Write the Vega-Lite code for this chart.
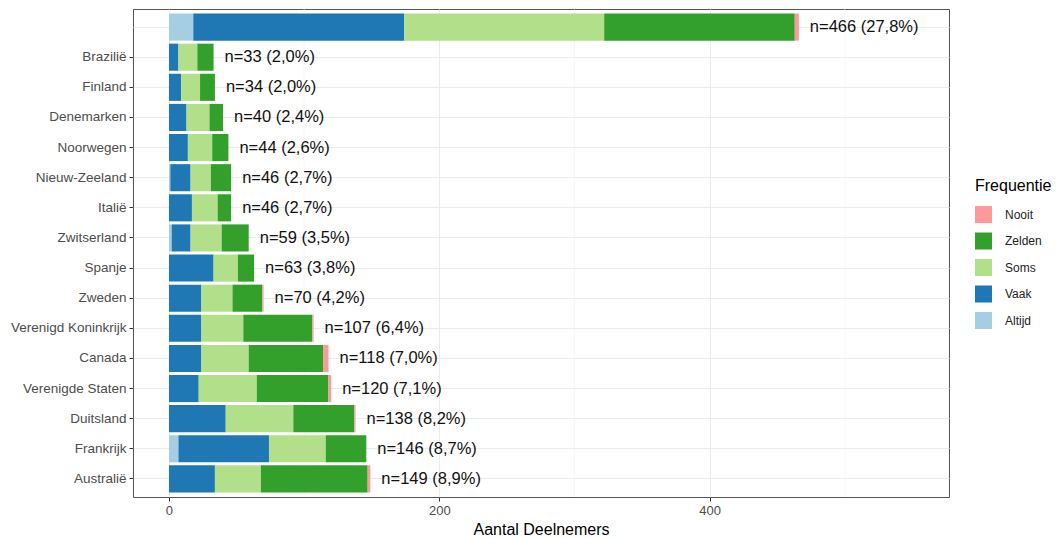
{
  "$schema": "https://vega.github.io/schema/vega-lite/v6.json",
  "width": 816,
  "height": 488,
  "autosize": "none",
  "padding": {"left": 133, "top": 9, "right": 108, "bottom": 41},
  "background": "white",
  "config": {
    "font": "Liberation Sans",
    "view": {"stroke": "#555555", "strokeWidth": 1},
    "axis": {"labelFont": "Liberation Sans", "titleFont": "Liberation Sans"}
  },
  "datasets": {
    "freqs": [
      {"country": "Totaal", "freq": "Altijd", "count": 18},
      {"country": "Totaal", "freq": "Vaak", "count": 156},
      {"country": "Totaal", "freq": "Soms", "count": 148},
      {"country": "Totaal", "freq": "Zelden", "count": 141},
      {"country": "Totaal", "freq": "Nooit", "count": 3},
      {"country": "Brazilië", "freq": "Vaak", "count": 7},
      {"country": "Brazilië", "freq": "Soms", "count": 14},
      {"country": "Brazilië", "freq": "Zelden", "count": 12},
      {"country": "Finland", "freq": "Vaak", "count": 9},
      {"country": "Finland", "freq": "Soms", "count": 14},
      {"country": "Finland", "freq": "Zelden", "count": 11},
      {"country": "Denemarken", "freq": "Vaak", "count": 13},
      {"country": "Denemarken", "freq": "Soms", "count": 17},
      {"country": "Denemarken", "freq": "Zelden", "count": 10},
      {"country": "Noorwegen", "freq": "Vaak", "count": 14},
      {"country": "Noorwegen", "freq": "Soms", "count": 18},
      {"country": "Noorwegen", "freq": "Zelden", "count": 12},
      {"country": "Nieuw-Zeeland", "freq": "Altijd", "count": 1},
      {"country": "Nieuw-Zeeland", "freq": "Vaak", "count": 15},
      {"country": "Nieuw-Zeeland", "freq": "Soms", "count": 15},
      {"country": "Nieuw-Zeeland", "freq": "Zelden", "count": 15},
      {"country": "Italië", "freq": "Vaak", "count": 17},
      {"country": "Italië", "freq": "Soms", "count": 19},
      {"country": "Italië", "freq": "Zelden", "count": 10},
      {"country": "Zwitserland", "freq": "Altijd", "count": 2},
      {"country": "Zwitserland", "freq": "Vaak", "count": 14},
      {"country": "Zwitserland", "freq": "Soms", "count": 23},
      {"country": "Zwitserland", "freq": "Zelden", "count": 20},
      {"country": "Spanje", "freq": "Vaak", "count": 33},
      {"country": "Spanje", "freq": "Soms", "count": 18},
      {"country": "Spanje", "freq": "Zelden", "count": 12},
      {"country": "Zweden", "freq": "Vaak", "count": 24},
      {"country": "Zweden", "freq": "Soms", "count": 23},
      {"country": "Zweden", "freq": "Zelden", "count": 22},
      {"country": "Zweden", "freq": "Nooit", "count": 1},
      {"country": "Verenigd Koninkrijk", "freq": "Vaak", "count": 24},
      {"country": "Verenigd Koninkrijk", "freq": "Soms", "count": 31},
      {"country": "Verenigd Koninkrijk", "freq": "Zelden", "count": 51},
      {"country": "Verenigd Koninkrijk", "freq": "Nooit", "count": 1},
      {"country": "Canada", "freq": "Vaak", "count": 24},
      {"country": "Canada", "freq": "Soms", "count": 35},
      {"country": "Canada", "freq": "Zelden", "count": 55},
      {"country": "Canada", "freq": "Nooit", "count": 4},
      {"country": "Verenigde Staten", "freq": "Vaak", "count": 22},
      {"country": "Verenigde Staten", "freq": "Soms", "count": 43},
      {"country": "Verenigde Staten", "freq": "Zelden", "count": 53},
      {"country": "Verenigde Staten", "freq": "Nooit", "count": 2},
      {"country": "Duitsland", "freq": "Vaak", "count": 42},
      {"country": "Duitsland", "freq": "Soms", "count": 50},
      {"country": "Duitsland", "freq": "Zelden", "count": 45},
      {"country": "Duitsland", "freq": "Nooit", "count": 1},
      {"country": "Frankrijk", "freq": "Altijd", "count": 7},
      {"country": "Frankrijk", "freq": "Vaak", "count": 67},
      {"country": "Frankrijk", "freq": "Soms", "count": 42},
      {"country": "Frankrijk", "freq": "Zelden", "count": 30},
      {"country": "Australië", "freq": "Vaak", "count": 34},
      {"country": "Australië", "freq": "Soms", "count": 34},
      {"country": "Australië", "freq": "Zelden", "count": 79},
      {"country": "Australië", "freq": "Nooit", "count": 2}
    ],
    "totals": [
      {"country": "Totaal", "n": 466, "label": "n=466 (27,8%)"},
      {"country": "Brazilië", "n": 33, "label": "n=33 (2,0%)"},
      {"country": "Finland", "n": 34, "label": "n=34 (2,0%)"},
      {"country": "Denemarken", "n": 40, "label": "n=40 (2,4%)"},
      {"country": "Noorwegen", "n": 44, "label": "n=44 (2,6%)"},
      {"country": "Nieuw-Zeeland", "n": 46, "label": "n=46 (2,7%)"},
      {"country": "Italië", "n": 46, "label": "n=46 (2,7%)"},
      {"country": "Zwitserland", "n": 59, "label": "n=59 (3,5%)"},
      {"country": "Spanje", "n": 63, "label": "n=63 (3,8%)"},
      {"country": "Zweden", "n": 70, "label": "n=70 (4,2%)"},
      {"country": "Verenigd Koninkrijk", "n": 107, "label": "n=107 (6,4%)"},
      {"country": "Canada", "n": 118, "label": "n=118 (7,0%)"},
      {"country": "Verenigde Staten", "n": 120, "label": "n=120 (7,1%)"},
      {"country": "Duitsland", "n": 138, "label": "n=138 (8,2%)"},
      {"country": "Frankrijk", "n": 146, "label": "n=146 (8,7%)"},
      {"country": "Australië", "n": 149, "label": "n=149 (8,9%)"}
    ],
    "minor": [{"v": 100}, {"v": 300}, {"v": 500}]
  },
  "layer": [
    {
      "data": {"name": "minor"},
      "mark": {"type": "rule", "color": "#f2f2f2", "strokeWidth": 0.6},
      "encoding": {
        "x": {"field": "v", "type": "quantitative", "scale": {"domain": [-26.6, 577.1], "nice": false, "zero": false}}
      }
    },
    {
      "data": {"name": "freqs"},
      "transform": [
        {"calculate": "indexof(['Altijd','Vaak','Soms','Zelden','Nooit'], datum.freq)", "as": "ord"}
      ],
      "mark": {"type": "bar"},
      "encoding": {
        "y": {
          "field": "country", "type": "nominal",
          "sort": ["Totaal", "Brazilië", "Finland", "Denemarken", "Noorwegen", "Nieuw-Zeeland", "Italië", "Zwitserland", "Spanje", "Zweden", "Verenigd Koninkrijk", "Canada", "Verenigde Staten", "Duitsland", "Frankrijk", "Australië"],
          "scale": {"paddingInner": 0.1, "paddingOuter": 0.15},
          "axis": {
            "title": null,
            "domain": false,
            "grid": true,
            "gridColor": "#ebebeb",
            "gridWidth": 1,
            "bandPosition": 0.5,
            "tickColor": {"condition": {"test": "datum.value == 'Totaal'", "value": "transparent"}, "value": "#333333"},
            "tickSize": 4,
            "labelFontSize": 13.5,
            "labelColor": "#4d4d4d",
            "labelPadding": 3,
            "labelExpr": "datum.value == 'Totaal' ? '' : datum.value"
          }
        },
        "x": {
          "field": "count", "type": "quantitative", "stack": "zero",
          "scale": {"domain": [-26.6, 577.1], "nice": false, "zero": false},
          "axis": {
            "title": "Aantal Deelnemers",
            "values": [0, 200, 400],
            "domain": false,
            "grid": true,
            "gridColor": "#ebebeb",
            "gridWidth": 1,
            "tickColor": "#333333",
            "tickSize": 4,
            "labelFontSize": 13,
            "labelColor": "#4d4d4d",
            "labelPadding": 3,
            "titleFontSize": 16,
            "titleFontWeight": "normal",
            "titleColor": "#000000",
            "titlePadding": 4
          }
        },
        "order": {"field": "ord", "type": "quantitative"},
        "color": {
          "field": "freq", "type": "nominal",
          "scale": {
            "domain": ["Nooit", "Zelden", "Soms", "Vaak", "Altijd"],
            "range": ["#FB9A99", "#33A02C", "#B2DF8A", "#1F78B4", "#A6CEE3"]
          },
          "legend": {
            "title": "Frequentie",
            "orient": "none",
            "legendX": 842,
            "legendY": 169,
            "titleFontSize": 16,
            "titleFontWeight": "normal",
            "titleColor": "#000000",
            "titlePadding": 12,
            "labelFontSize": 12,
            "labelColor": "#222222",
            "labelOffset": 13,
            "symbolType": "square",
            "symbolSize": 289,
            "symbolStrokeWidth": 0,
            "symbolOpacity": 1,
            "rowPadding": 9.5
          }
        }
      }
    },
    {
      "data": {"name": "totals"},
      "mark": {"type": "text", "align": "left", "baseline": "middle", "dx": 11, "fontSize": 16.5, "color": "#111111"},
      "encoding": {
        "y": {"field": "country", "type": "nominal", "sort": ["Totaal", "Brazilië", "Finland", "Denemarken", "Noorwegen", "Nieuw-Zeeland", "Italië", "Zwitserland", "Spanje", "Zweden", "Verenigd Koninkrijk", "Canada", "Verenigde Staten", "Duitsland", "Frankrijk", "Australië"]},
        "x": {"field": "n", "type": "quantitative"},
        "text": {"field": "label"}
      }
    }
  ]
}
